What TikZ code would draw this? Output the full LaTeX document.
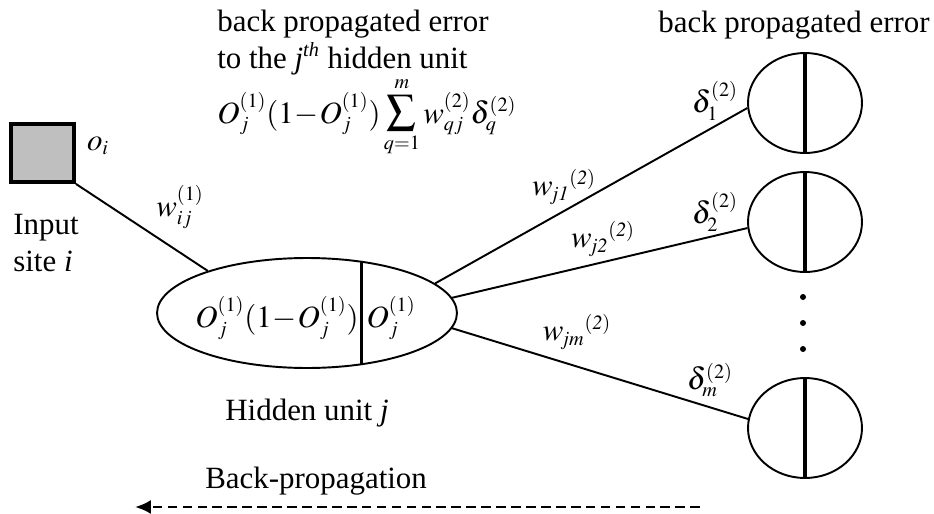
\documentclass[tikz,border=0pt]{standalone}
\usepackage{mathptmx}
\usepackage[no-math]{fontspec}
\setmainfont{Liberation Serif}
\usetikzlibrary{arrows.meta,positioning,shapes.geometric}
\DeclareMathSizes{17.6}{17.6}{11.5}{9}

\tikzset{
  txt/.style={font=\fontsize{17.6}{20.5}\selectfont,inner sep=0pt},
  unit/.style={draw,ellipse,line width=1.1pt,inner sep=0pt},
  link/.style={line width=1.1pt},
  divider/.style={line width=1.8pt}
}
\newcommand{\Oone}{O_j^{(1)}}
\newcommand{\bigsum}{\mathop{\scalebox{1.35}{$\sum$}}\limits}

\begin{document}
\begin{tikzpicture}[x=0.02cm,y=-0.02cm]
  \useasboundingbox (0,0) rectangle (934,514);
  % input site
  \node[draw,fill=black!25,line width=2.2pt,minimum width=1.26cm,minimum height=1.16cm,inner sep=0pt] (inp) at (42.5,153) {};
  \node[txt] (oi) at (98,146) {$o_i$};
  \node[txt,anchor=base west,align=left] (inplab) at (13,271) {Input\\site \textit{i}};
  % hidden unit j
  \node[unit,minimum width=6cm,minimum height=2.2cm] (hid) at (307,313) {};
  \draw[divider] (hid.44.4) -- (hid.-44.4);
  \node[txt] (hidl) at (277,318) {$\Oone(1\!-\!\Oone)$};
  \node[txt] (hidr) at (391,318) {$\Oone$};
  \node[txt,anchor=base] (hidlab) at (307,420) {Hidden unit \textit{j}};
  % output units
  \node[unit,minimum width=2.28cm,minimum height=2.0cm] (o1) at (805,103) {};
  \node[unit,minimum width=2.28cm,minimum height=2.0cm] (o2) at (805,222) {};
  \node[unit,minimum width=2.28cm,minimum height=2.0cm] (om) at (805,428) {};
  \foreach \n in {o1,o2,om}
    \draw[divider] (\n.north) -- (\n.south);
  \foreach \y in {297,323,349}
    \fill (803,\y) circle (3);
  % labels on top
  \node[txt,anchor=base west,align=left] (errj) at (217,68) {back propagated error\\to the \textit{j\textsuperscript{th}} hidden unit};
  \node[txt,anchor=base west] (sumf) at (217,123) {$\Oone(1\!-\!\Oone)\bigsum_{q=1}^{m} w_{qj}^{(2)}\delta_q^{(2)}$};
  \node[txt,anchor=base west] (errk) at (658,32) {back propagated error};
  % connections
  \draw[link] (inp.south east) -- (hid.157);
  \draw[link] (hid.13) -- (o1.185);
  \draw[link] (hid.6) -- (o2.186);
  \draw[link] (hid.-6) -- (om.171);
  \node[txt] (w1) at (180,207) {$w_{ij}^{(1)}$};
  \node[txt] (wj1) at (564,187) {$w_{\mathit{j1}}{}^{\mathit{(2)}}$};
  \node[txt] (wj2) at (603,239) {$w_{\mathit{j2}}{}^{\mathit{(2)}}$};
  \node[txt] (wjm) at (577,332) {$w_{\mathit{jm}}{}^{\mathit{(2)}}$};
  \node[txt] (d1) at (715,101) {$\delta_1^{(2)}$};
  \node[txt] (d2) at (715,212) {$\delta_2^{(2)}$};
  \node[txt] (dm) at (710,380) {$\delta_m^{(2)}$};
  % back-propagation arrow
  \coordinate (bpR) at (700,507);
  \coordinate (bpL) at (135,507);
  \draw[line width=1.6pt,dash pattern=on 5.5pt off 3pt,-{Latex[length=9pt,width=8pt]}] (bpR) -- (bpL);
  \node[txt,anchor=base west] (bplab) at (205,488) {Back-propagation};
\end{tikzpicture}
\end{document}
